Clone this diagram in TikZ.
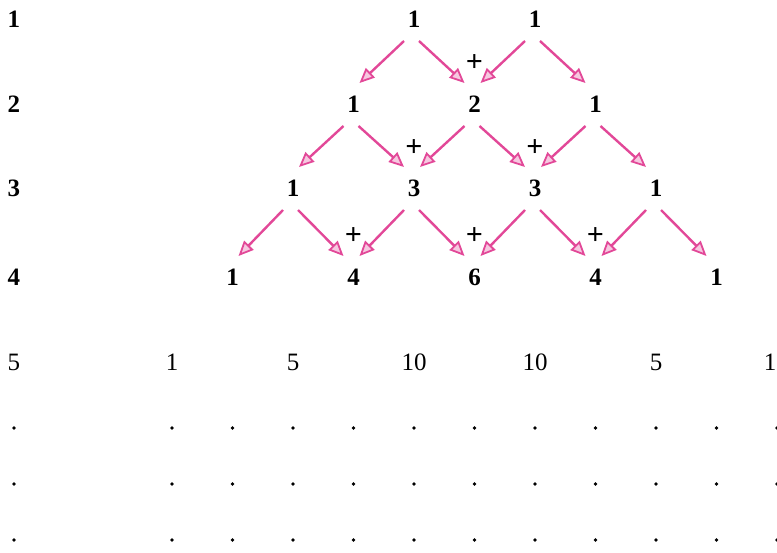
\documentclass[tikz,border=0pt]{standalone}
\usepackage{fontspec}
\setmainfont{Liberation Serif}
\usetikzlibrary{arrows.meta,calc}
\definecolor{arrpink}{RGB}{226,72,152}
\begin{document}
\begin{tikzpicture}[x=1pt,y=1pt,
  num/.style={font=\fontsize{25}{25}\selectfont\bfseries, inner sep=0pt},
  numlight/.style={font=\fontsize{25}{25}\selectfont, inner sep=0pt},
  plussign/.style={font=\fontsize{30}{30}\selectfont\bfseries, inner sep=0pt},
  arr/.style={draw=arrpink, line width=2.4pt,
    -{Triangle[length=15pt,width=13pt,line width=1.8pt,fill=arrpink!30]}},
  dotmark/.style={fill=black}]
\useasboundingbox (0,0) rectangle (777,-552);
% row labels
\node[num] (lab1) at (14,-19) {1};
\node[num] (lab2) at (14,-104) {2};
\node[num] (lab3) at (14,-188) {3};
\node[num] (lab4) at (14,-277) {4};
\node[numlight] (lab5) at (14,-362) {5};
% triangle rows
\foreach \v [count=\j from 0] in {1,1}
  \node[num] (r1-\j) at ({414+121*\j},-19) {\v};
\foreach \v [count=\j from 0] in {1,2,1}
  \node[num] (r2-\j) at ({353.5+121*\j},-104) {\v};
\foreach \v [count=\j from 0] in {1,3,3,1}
  \node[num] (r3-\j) at ({293+121*\j},-188) {\v};
\foreach \v [count=\j from 0] in {1,4,6,4,1}
  \node[num] (r4-\j) at ({232.5+121*\j},-277) {\v};
\foreach \v/\xx [count=\j from 0] in {1/172,5/293,10/414,10/535,5/656,1/770}
  \node[numlight] (r5-\j) at (\xx,-362) {\v};
% arrows
\foreach \i in {1,2,3}{
  \pgfmathtruncatemacro\nx{\i+1}
  \foreach \j in {0,...,\i}{
    \pgfmathtruncatemacro\jj{\j+1}
    \draw[arr] ($(r\i-\j)+(-10,-22)$) -- ($(r\nx-\j)+(6,21)$);
    \draw[arr] ($(r\i-\j)+(5,-22)$) -- ($(r\nx-\jj)+(-10,21)$);
  }
}
% plus signs
\node[plussign] (p1) at ($(r2-1)+(0,41)$) {+};
\node[plussign] (p2) at ($(r3-1)+(0,40)$) {+};
\node[plussign] (p3) at ($(r3-2)+(0,40)$) {+};
\node[plussign] (p4) at ($(r4-1)+(0,41)$) {+};
\node[plussign] (p5) at ($(r4-2)+(0,41)$) {+};
\node[plussign] (p6) at ($(r4-3)+(0,41)$) {+};
% dots
\foreach \y in {428,484,540}{
  \fill[dotmark] (14,-\y) circle (1.8);
  \foreach \k in {0,...,10}
    \fill[dotmark] ({172+60.5*\k},-\y) circle (1.8);
}
\end{tikzpicture}
\end{document}
